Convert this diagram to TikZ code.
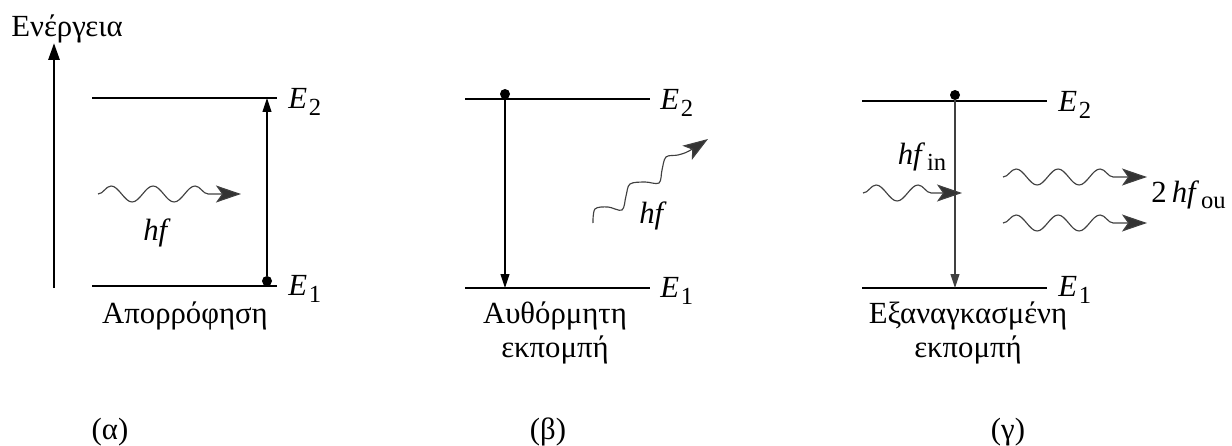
\documentclass[tikz,border=0pt]{standalone}
\usepackage{fontspec}
\setmainfont{Liberation Serif}
\usetikzlibrary{arrows.meta, positioning, decorations.pathmorphing}

\newcommand{\lowsub}[2]{#1\kern0.06em\raisebox{-0.45ex}{\fontsize{14}{16}\selectfont #2}}

\tikzset{
  level/.style={line width=0.8pt},
  trans/.style={line width=0.6pt, -{Triangle[length=0.28cm, width=0.18cm]}},
  dotnode/.style={circle, fill, inner sep=0pt, minimum size=0.2cm},
  photonline/.style={draw=black!75, line width=0.65pt,
    -{Stealth[length=0.5cm, width=0.34cm, inset=0.12cm, fill=black!80]}},
  photon/.style={photonline, decorate,
    decoration={snake, segment length=0.84cm, amplitude=0.16cm, post length=0.45cm}},
  lbl/.style={inner sep=0pt}
}

\begin{document}
\begin{tikzpicture}[x=0.02cm, y=-0.02cm, font=\fontsize{17.5}{20}\selectfont]
\useasboundingbox (0,0) rectangle (1232,446);

\coordinate (axbot) at (54,288);
\coordinate (axtop) at (54,43);
\draw[line width=1.6pt, -{Triangle[length=0.34cm, width=0.22cm]}] (axbot) -- (axtop);
\node[lbl] (energy) at (67,29) {Ενέργεια};

\coordinate (a2l) at (92,98);
\coordinate (a2r) at (277,98);
\coordinate (a1l) at (92,286);
\coordinate (a1r) at (277,286);
\draw[level] (a2l) -- (a2r);
\draw[level] (a1l) -- (a1r);
\node[lbl, anchor=west] (aE2) at (288,102) {\lowsub{\textit{E}}{2}};
\node[lbl, anchor=west] (aE1) at (288,289) {\lowsub{\textit{E}}{1}};
\node[dotnode] (adot) at (267,281) {};
\coordinate (atop) at (267,98);
\draw[trans] (adot) -- (atop);
\coordinate (awin) at (98,194);
\coordinate (awout) at (241,194);
\draw[photon] (awin) -- (awout);
\node[lbl] (ahf) at (157,233) {\textit{hf}};
\node[lbl] (aname) at (185,316) {Απορρόφηση};
\node[lbl] (atag) at (110,432) {(α)};

\coordinate (b2l) at (465,99);
\coordinate (b2r) at (650,99);
\coordinate (b1l) at (465,288);
\coordinate (b1r) at (650,288);
\draw[level] (b2l) -- (b2r);
\draw[level] (b1l) -- (b1r);
\node[lbl, anchor=west] (bE2) at (660,103) {\lowsub{\textit{E}}{2}};
\node[lbl, anchor=west] (bE1) at (660,291) {\lowsub{\textit{E}}{1}};
\node[dotnode] (bdot) at (505,94) {};
\coordinate (bbot) at (505,288);
\draw[trans] (bdot) -- (bbot);
\coordinate (bwin) at (593,223);
\coordinate (bwout) at (708,139);
\draw[photonline] plot[smooth, tension=0.55] coordinates {(bwin) (595,209) (608,207) (622,210) (626,196) (630,184) (645,182) (659,183) (662,170) (666,157) (678,155) (689,151) (bwout)};
\node[lbl] (bhf) at (653,216) {\textit{hf}};
\node[lbl, align=center] (bname) at (555,333) {Αυθόρμητη\\[-1pt]εκπομπή};
\node[lbl] (btag) at (548,432) {(β)};

\coordinate (c2l) at (862,101);
\coordinate (c2r) at (1047,101);
\coordinate (c1l) at (862,288);
\coordinate (c1r) at (1047,288);
\draw[level] (c2l) -- (c2r);
\draw[level] (c1l) -- (c1r);
\node[lbl, anchor=west] (cE2) at (1058,105) {\lowsub{\textit{E}}{2}};
\node[lbl, anchor=west] (cE1) at (1058,290) {\lowsub{\textit{E}}{1}};
\node[dotnode] (cdot) at (955,95) {};
\coordinate (cbot) at (955,288);
\draw[trans, draw=black!75] (cdot) -- (cbot);
\coordinate (cwin) at (863,193);
\coordinate (cwend) at (962,193);
\draw[photon] (cwin) -- (cwend);
\node[lbl] (chf) at (922,157) {\lowsub{\textit{hf}}{in}};
\coordinate (cw1in) at (1003,177);
\coordinate (cw1out) at (1147,177);
\coordinate (cw2in) at (1003,223);
\coordinate (cw2out) at (1147,223);
\draw[photon] (cw1in) -- (cw1out);
\draw[photon] (cw2in) -- (cw2out);
\node[lbl, anchor=west] (cout) at (1151,195) {2\,\lowsub{\textit{hf}}{ou}};
\node[lbl, align=center] (cname) at (968,333) {Εξαναγκασμένη\\[-1pt]εκπομπή};
\node[lbl] (ctag) at (1008,432) {(γ)};
\end{tikzpicture}
\end{document}
